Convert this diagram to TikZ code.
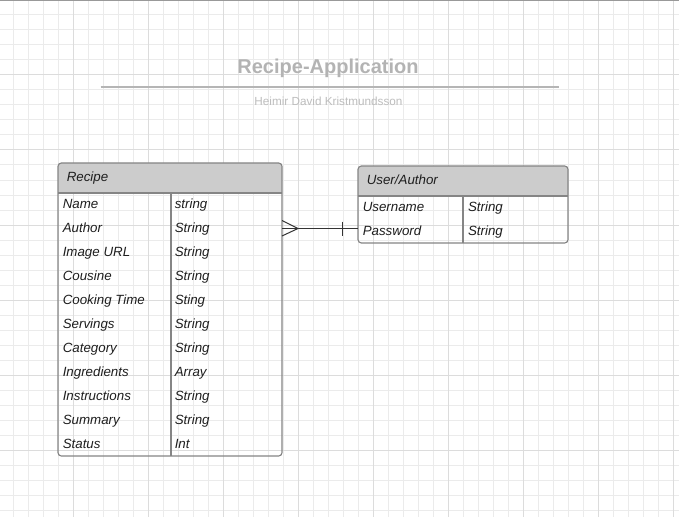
\documentclass[tikz,border=0pt]{standalone}
\usepackage{fontspec}
\setmainfont{Liberation Sans}
\usetikzlibrary{calc}
\definecolor{gridminor}{HTML}{EBEBEB}
\definecolor{gridmajor}{HTML}{DCDCDC}
\definecolor{tblborder}{HTML}{858585}
\definecolor{headfill}{HTML}{CCCCCC}
\definecolor{titlegray}{HTML}{B3B3B3}
\definecolor{subgray}{HTML}{BDBDBD}
\definecolor{rulegray}{HTML}{B5B5B5}
\definecolor{txt}{HTML}{1E1E1E}
\definecolor{conn}{HTML}{333333}
\begin{document}
\begin{tikzpicture}[x=0.75pt,y=-0.75pt,
  tbl/.style={inner sep=0pt, outer sep=0pt, anchor=north west},
  outline/.style={draw=tblborder, line width=0.85pt, rounded corners=2.5pt},
  rule/.style={draw=tblborder, line width=0.85pt},
  cell/.style={font=\itshape\fontsize{10}{12}\selectfont, text=txt, inner sep=0pt, anchor=base west},
  conline/.style={draw=conn, line width=0.75pt}]
\useasboundingbox (0,0) rectangle (679,517);
\fill[white] (0,0) rectangle (679,517);
% grid
\foreach \k in {0,...,44} \draw[gridminor, line width=0.75pt] ({13.3+15*\k},0) -- ({13.3+15*\k},517);
\foreach \k in {0,...,34} \draw[gridminor, line width=0.75pt] (0,{15*\k}) -- (679,{15*\k});
\foreach \k in {0,...,8} \draw[gridmajor, line width=0.75pt] ({73.3+75*\k},0) -- ({73.3+75*\k},517);
\foreach \k in {1,...,6} \draw[gridmajor, line width=0.75pt] (0,{75*\k}) -- (679,{75*\k});
\draw[black!40, line width=0.75pt] (0,0.5) -- (679,0.5);
% title
\node[font=\bfseries\fontsize{15}{18}\selectfont, text=titlegray, anchor=base, inner sep=0pt] (title) at (328,73.3) {Recipe-Application};
\coordinate (ruleL) at (100.7,87.3);
\coordinate (ruleR) at (559.3,87.3);
\draw[rulegray, line width=1.4pt] (ruleL) -- (ruleR);
\node[font=\fontsize{8.8}{10}\selectfont, text=subgray, anchor=base, inner sep=0pt] (sub) at (328.5,105.7) {Heimir David Kristmundsson};
% Recipe table
\node[tbl, minimum width=168pt, minimum height=219.75pt] (recipe) at (58,163) {};
\begin{scope}
\clip (recipe.north west) rectangle ($(recipe.north east)+(0,30)$);
\fill[headfill, rounded corners=2.5pt] (recipe.north west) rectangle (recipe.south east);
\end{scope}
\path[outline] (recipe.north west) rectangle (recipe.south east);
\draw[rule] ($(recipe.north west)+(0,30)$) -- ($(recipe.north east)+(0,30)$);
\draw[rule] ($(recipe.north west)+(113,30)$) -- ($(recipe.south west)+(113,0)$);
\node[cell] (rhead) at (66.5,181.5) {Recipe};
\foreach \n/\t [count=\i from 0] in {Name/string, Author/String, Image URL/String, Cousine/String, Cooking Time/Sting, Servings/String, Category/String, Ingredients/Array, Instructions/String, Summary/String, Status/Int} {
  \node[cell] (rn\i) at (62.5,{208+24*\i}) {\n};
  \node[cell] (rt\i) at (174.5,{208+24*\i}) {\t};
}
% User table
\node[tbl, minimum width=157.5pt, minimum height=57.75pt] (user) at (358,166) {};
\begin{scope}
\clip (user.north west) rectangle ($(user.north east)+(0,30)$);
\fill[headfill, rounded corners=2.5pt] (user.north west) rectangle (user.south east);
\end{scope}
\path[outline] (user.north west) rectangle (user.south east);
\draw[rule] ($(user.north west)+(0,30)$) -- ($(user.north east)+(0,30)$);
\draw[rule] ($(user.north west)+(105,30)$) -- ($(user.south west)+(105,0)$);
\node[cell] (uhead) at (366.5,184.3) {User/Author};
\node[cell] (un0) at (362.5,211.7) {Username};
\node[cell] (ut0) at (467.8,211.7) {String};
\node[cell] (un1) at (362.5,235.7) {Password};
\node[cell] (ut1) at (467.8,235.7) {String};
% connector
\coordinate (cf) at (298,228.5);
\coordinate (bar) at (342.5,228.5);
\draw[conline] (cf -| recipe.east) -- (cf -| user.west);
\draw[conline] ($(cf -| recipe.east)+(0,-8)$) -- (cf) -- ($(cf -| recipe.east)+(0,7.5)$);
\draw[conline] ($(bar)+(0,-7)$) -- ($(bar)+(0,7)$);
\end{tikzpicture}
\end{document}
